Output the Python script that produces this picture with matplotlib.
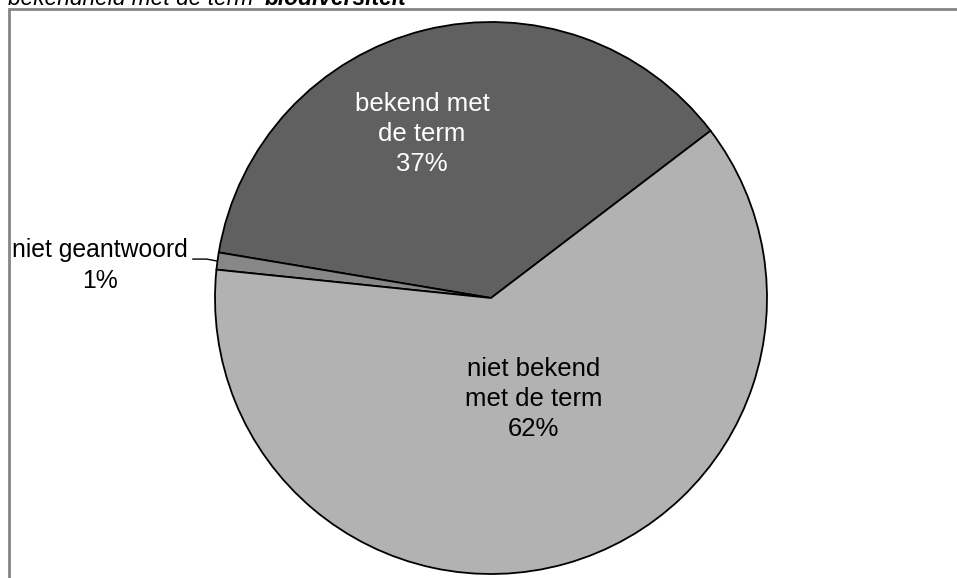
import matplotlib
matplotlib.use("Agg")
import matplotlib.pyplot as plt
from matplotlib.patches import Rectangle

plt.rcParams["font.family"] = ["Liberation Sans", "DejaVu Sans"]

# data
labels = ["bekend met\nde term", "niet geantwoord", "niet bekend\nmet de term"]
values = [37, 1, 62]
colors = ["#606060", "#878787", "#b2b2b2"]

W, H = 957, 578
fig = plt.figure(figsize=(W / 100, H / 100), dpi=100)

# pie axes, placed in pixel terms
cx, cy, r = 491, 298, 276
ax = fig.add_axes([(cx - r) / W, (H - cy - r) / H, 2 * r / W, 2 * r / H])
wedges, _ = ax.pie(values, colors=colors, startangle=37.3, counterclock=True,
                   wedgeprops={"edgecolor": "black", "linewidth": 1.3},
                   radius=1.0)
ax.set_xlim(-1.0, 1.0)
ax.set_ylim(-1.0, 1.0)
ax.set_aspect("equal")
ax.axis("off")
for w in wedges:
    w.set_clip_on(False)

FS = 18.5
LS = 1.3

# labels inside the big slices
ax.text(-0.25, 0.594, f"{labels[0]}\n{values[0]}%", ha="center", va="center",
        fontsize=FS, color="white", linespacing=LS)
ax.text(0.154, -0.366, f"{labels[2]}\n{values[2]}%", ha="center", va="center",
        fontsize=FS, color="black", linespacing=LS)

# outside label for the small slice with leader line
ax.text(-1.417, 0.118, f"niet geantwoord\n{values[1]}%", ha="center", va="center",
        fontsize=17.8, linespacing=1.35, clip_on=False)
ax.plot([-1.08, -1.03, -0.993], [0.141, 0.141, 0.134], color="black", lw=1,
        clip_on=False)

# chart frame (cut off at right and bottom)
fig.patches.append(Rectangle((9 / W, -0.1), 1.2, 1 - 9 / H + 0.1,
                             transform=fig.transFigure, fill=False,
                             edgecolor="#858585", linewidth=2, zorder=0))

# title, mostly cut off at top
t1 = fig.text(8 / W, 1 - 5 / H, "bekendheid met de term '", fontsize=16.4,
              style="italic", ha="left", va="baseline")
fig.canvas.draw()
bb = t1.get_window_extent()
fig.text(bb.x1 / W, 1 - 5 / H, "biodiversiteit'", fontsize=16.4,
         style="italic", fontweight="bold", ha="left", va="baseline")

fig.savefig("out.png", dpi=100)
